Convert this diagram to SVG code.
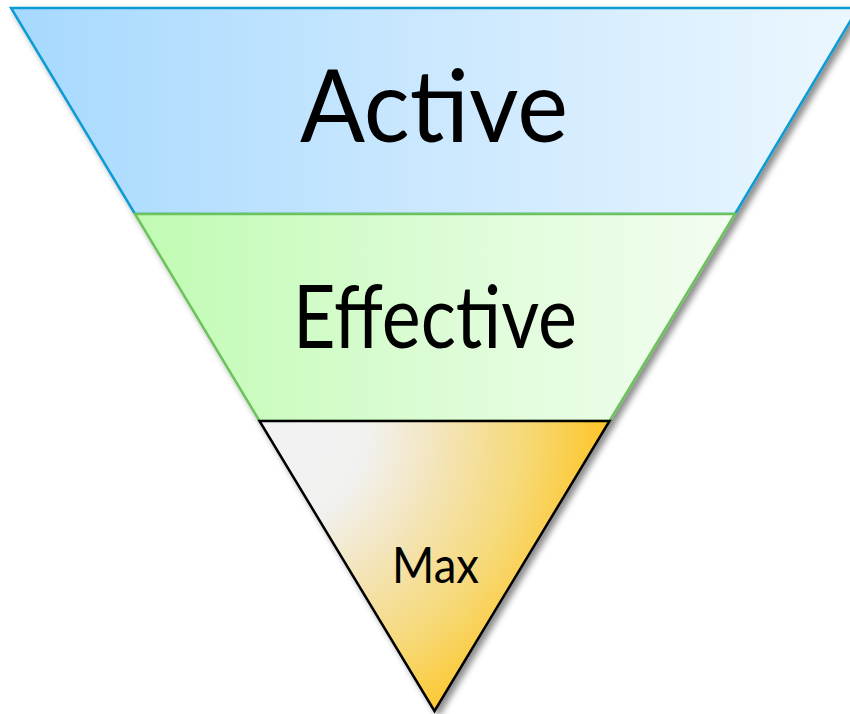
<svg xmlns="http://www.w3.org/2000/svg" width="850" height="714" viewBox="0 0 850 714">
  <style>
    .lbl { font-family: "Lato", "Open Sans", "Liberation Sans", sans-serif; fill: #000; text-anchor: middle; }
    .sec { stroke-width: 2.5; stroke-linejoin: miter; }
  </style>
  <defs>
    <linearGradient id="gBlue" x1="0" y1="0" x2="1" y2="0">
      <stop offset="0" stop-color="#a6d9fe"/>
      <stop offset="0.5" stop-color="#cbe8fe"/>
      <stop offset="1" stop-color="#ecf7ff"/>
    </linearGradient>
    <linearGradient id="gGreen" x1="0" y1="0" x2="1" y2="0">
      <stop offset="0" stop-color="#c0fbb2"/>
      <stop offset="0.5" stop-color="#dcfcd5"/>
      <stop offset="1" stop-color="#f3fdf1"/>
    </linearGradient>
    <radialGradient id="gOrange" gradientUnits="userSpaceOnUse" cx="262" cy="423" r="350">
      <stop offset="0" stop-color="#f2f2f2"/>
      <stop offset="0.3" stop-color="#f1f1f0"/>
      <stop offset="0.48" stop-color="#f3e6c2"/>
      <stop offset="0.75" stop-color="#f6d978"/>
      <stop offset="1" stop-color="#fec524"/>
    </radialGradient>
    <filter id="shadow" x="-10%" y="-10%" width="120%" height="120%">
      <feDropShadow dx="4" dy="4" stdDeviation="3" flood-color="#000" flood-opacity="0.45"/>
    </filter>
  </defs>
  <g filter="url(#shadow)">
    <g id="active">
      <polygon class="sec" points="11,8 858,8 735,214 135,214" fill="url(#gBlue)" stroke="#0e9bd4"/>
    </g>
    <g id="effective">
      <polygon class="sec" points="135,214 735,214 609.5,421 259.5,421" fill="url(#gGreen)" stroke="#6cc35b"/>
    </g>
    <g id="max">
      <polygon class="sec" points="259.5,421 609.5,421 434.5,711" fill="url(#gOrange)" stroke="#000"/>
    </g>
  </g>
  <text class="lbl" x="434" y="142" font-size="100" textLength="268" lengthAdjust="spacingAndGlyphs">Active</text>
  <text class="lbl" x="435" y="348" font-size="87" textLength="284" lengthAdjust="spacingAndGlyphs">Effective</text>
  <text class="lbl" x="435.5" y="583" font-size="50" textLength="87" lengthAdjust="spacingAndGlyphs">Max</text>
</svg>
